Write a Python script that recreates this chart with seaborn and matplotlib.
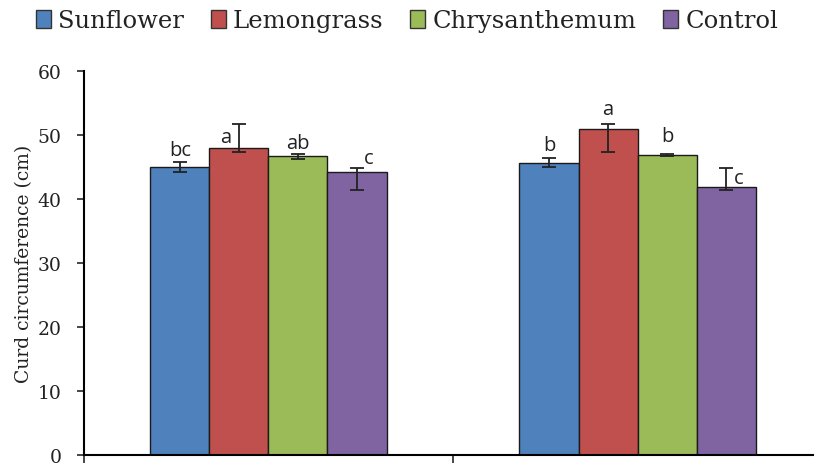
import pandas as pd
import seaborn as sns
import matplotlib.pyplot as plt
from matplotlib.patches import Patch

# data
groups = ['Season 1', 'Season 2']
treatments = ['Sunflower', 'Lemongrass', 'Chrysanthemum', 'Control']
means = {
    'Sunflower':     [45.0, 45.7],
    'Lemongrass':    [48.0, 50.9],
    'Chrysanthemum': [46.7, 46.9],
    'Control':       [44.2, 41.9],
}
err_low = {
    'Sunflower':     [0.7, 0.7],
    'Lemongrass':    [0.6, 3.5],
    'Chrysanthemum': [0.4, 0.15],
    'Control':       [2.7, 0.4],
}
err_high = {
    'Sunflower':     [0.8, 0.7],
    'Lemongrass':    [3.7, 0.8],
    'Chrysanthemum': [0.4, 0.15],
    'Control':       [0.6, 2.9],
}
letters = {
    'Sunflower':     ['bc', 'b'],
    'Lemongrass':    ['a', 'a'],
    'Chrysanthemum': ['ab', 'b'],
    'Control':       ['c', 'c'],
}
colors = ['#4F81BD', '#C0504D', '#9BBB59', '#8064A2']

rows = []
for t in treatments:
    for i, g in enumerate(groups):
        rows.append({'group': g, 'treatment': t, 'value': means[t][i]})
df = pd.DataFrame(rows)

sns.set_style('white')
plt.rcParams['font.family'] = ['DejaVu Serif']

fig = plt.figure(figsize=(8.14, 4.64), dpi=100)
ax = fig.add_axes([0.103, 0.017, 0.907, 0.8276])

sns.barplot(data=df, x='group', y='value', hue='treatment', hue_order=treatments,
            palette=colors, width=0.64, errorbar=None, edgecolor='#1a1a1a',
            linewidth=1.0, saturation=1, legend=False, ax=ax)

# label offsets in pixels (dx, dy) relative to top of error bar
offsets = {
    'Sunflower':     [(0, 12), (0, 13)],
    'Lemongrass':    [(-13, -13), (0, 15)],
    'Chrysanthemum': [(0, 11), (0, 18)],
    'Control':       [(12, 10), (13, -10)],
}

for j, (t, cont) in enumerate(zip(treatments, ax.containers)):
    for i, bar in enumerate(cont):
        xc = bar.get_x() + bar.get_width() / 2
        ax.errorbar(xc, means[t][i], yerr=[[err_low[t][i]], [err_high[t][i]]],
                    fmt='none', ecolor='#222222', elinewidth=1.3, capsize=4.7,
                    capthick=1.3)
        dx, dy = offsets[t][i]
        ax.annotate(letters[t][i], (xc, means[t][i] + err_high[t][i]),
                    xytext=(dx, dy), textcoords='offset pixels',
                    ha='center', va='center', fontsize=14.5,
                    family=['Open Sans', 'DejaVu Sans'], color='#222222')

ax.set_ylim(0, 60)
ax.set_yticks(range(0, 61, 10))
ax.set_xlim(-0.5, 1.5)
ax.set_xticks([-0.5, 0.5, 1.5])
ax.set_xticklabels(['', '', ''])
ax.set_xlabel('')
ax.set_ylabel('Curd circumference (cm)', fontsize=13.5, labelpad=3, color='#222222')
ax.tick_params(axis='y', labelsize=13.5, direction='out', length=5, width=1.2,
               left=True, pad=11, labelcolor='#222222')
ax.tick_params(axis='x', direction='out', length=7, width=1.2, bottom=True)
for s in ['top', 'right']:
    ax.spines[s].set_visible(False)
for s in ['left', 'bottom']:
    ax.spines[s].set_color('black')
    ax.spines[s].set_linewidth(1.5)

handles = [Patch(facecolor=c, edgecolor='#333333', linewidth=1.0) for c in colors]
fig.legend(handles, treatments, loc='upper center', bbox_to_anchor=(0.5, 1.025),
           ncol=4, frameon=False, fontsize=17.5, handlelength=0.62,
           handleheight=0.75, handletextpad=0.3, columnspacing=1.1,
           labelcolor='#222222')

fig.savefig('out.png', dpi=100)
